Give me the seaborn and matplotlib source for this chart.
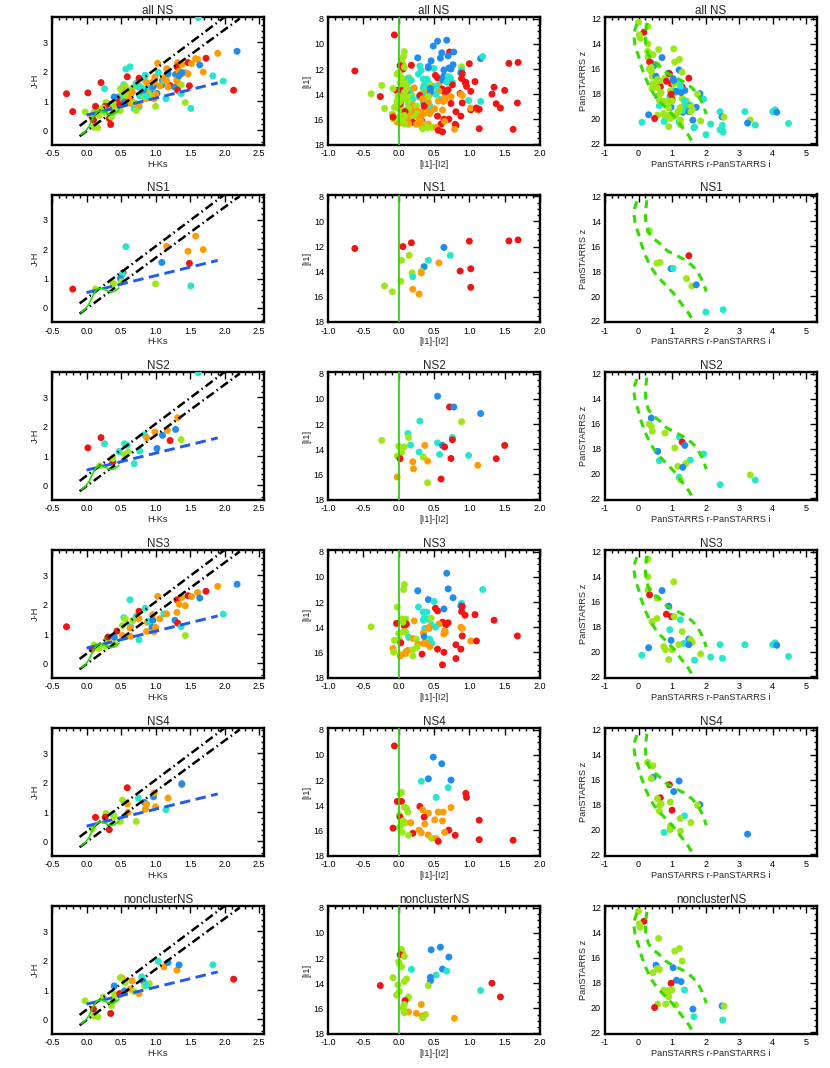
import matplotlib
matplotlib.use('Agg')
import matplotlib.pyplot as plt
import seaborn as sns
import pandas as pd
from matplotlib.ticker import MultipleLocator, FormatStrFormatter

# ---------------- class colours ----------------
PALETTE = {'r': '#f01414', 'o': '#ff9c00', 'g': '#9de619', 'c': '#26e6cc', 'b': '#1e8cf0'}

# ---------------- NS1 ----------------
ns1_hk = [-0.20, 0.13, 0.39, 0.53, 0.52, 0.49, 0.51, 0.57, 1.16, 1.09, 1.00, 1.47, 1.58, 1.69, 1.49, 1.51]
ns1_jh = [0.64, 0.64, 0.83, 1.20, 1.15, 1.00, 0.89, 2.09, 2.10, 1.55, 0.82, 1.93, 2.45, 1.99, 1.52, 0.75]
ns1_jh_cls = ['r', 'g', 'g', 'r', 'c', 'b', 'g', 'c', 'o', 'b', 'g', 'o', 'o', 'o', 'r', 'c']

ns1_i12 = [-0.62, 0.06, 0.18, 1.00, 1.56, 1.69, 1.02, 0.87, 1.02, 0.64, 0.73, 0.42, 0.36, 0.57, 0.15, 0.04, 0.19, 0.32, 0.32, 0.20, 0.03, -0.20, -0.09, 0.20, 0.29]
ns1_i1 = [12.15, 12.0, 11.7, 11.57, 11.55, 11.47, 13.77, 13.95, 15.25, 12.07, 12.7, 13.1, 13.6, 13.3, 12.7, 13.1, 14.1, 13.98, 14.1, 14.4, 14.77, 15.14, 15.6, 15.4, 15.78]
ns1_i_cls = ['r', 'r', 'r', 'r', 'r', 'r', 'r', 'r', 'r', 'b', 'c', 'c', 'b', 'o', 'g', 'g', 'g', 'g', 'o', 'c', 'g', 'g', 'g', 'o', 'o']

ns1_ri = [0.32, 1.50, 0.55, 0.64, 0.97, 1.03, 1.43, 1.59, 1.72, 2.01, 2.52]
ns1_z = [14.75, 16.76, 17.37, 17.30, 17.80, 17.78, 18.6, 19.2, 19.1, 21.3, 21.1]
ns1_ps_cls = ['g', 'r', 'g', 'g', 'b', 'c', 'g', 'g', 'b', 'c', 'c']

# ---------------- NS2 ----------------
ns2_hk = [0.02, 0.21, 0.26, 0.19, 0.38, 0.38, 0.47, 0.55, 0.59, 0.55, 0.60, 0.69, 0.77, 0.84, 0.87, 1.02, 0.99, 1.10, 1.17, 1.21, 1.29, 1.32, 1.37, 1.62]
ns2_jh = [1.28, 1.63, 1.42, 0.67, 0.80, 0.92, 1.15, 1.42, 1.37, 1.05, 1.13, 0.74, 1.17, 1.73, 1.63, 1.26, 1.82, 1.71, 1.88, 1.53, 1.91, 2.31, 1.56, 3.85]
ns2_jh_cls = ['r', 'r', 'c', 'g', 'r', 'g', 'c', 'c', 'c', 'g', 'g', 'c', 'c', 'c', 'o', 'b', 'o', 'b', 'o', 'r', 'b', 'o', 'g', 'c']

ns2_i12 = [0.55, 0.72, 0.78, 1.16, 0.30, 0.89, 0.13, 0.14, 0.76, 0.76, -0.24, 0.55, 0.17, 0.37, 0.62, 0.65, 0.00, 0.08, 0.29, 0.04, 0.58, -0.02, 0.35, 0.02, 0.41, 0.74, 0.99, 1.38, 1.50, 1.12, 0.20, 0.21, -0.02, 0.60, 0.41]
ns2_i1 = [9.78, 10.64, 10.64, 11.16, 11.76, 11.81, 12.75, 13.07, 13.07, 13.25, 13.3, 13.5, 13.67, 13.7, 13.7, 13.82, 13.77, 13.82, 14.24, 14.27, 14.42, 14.55, 14.63, 14.76, 14.95, 14.74, 14.5, 14.76, 13.7, 15.28, 15.0, 15.57, 16.22, 16.38, 16.67]
ns2_i_cls = ['b', 'r', 'b', 'b', 'c', 'g', 'c', 'g', 'c', 'r', 'g', 'c', 'c', 'o', 'b', 'r', 'g', 'g', 'c', 'g', 'c', 'g', 'g', 'r', 'o', 'r', 'c', 'r', 'r', 'o', 'o', 'o', 'o', 'r', 'g']

ns2_ri = [0.38, 0.32, 0.38, 0.41, 0.79, 1.22, 1.30, 1.38, 1.08, 0.57, 1.94, 0.62, 1.54, 1.41, 1.17, 1.32, 1.21, 1.25, 3.33, 3.48, 2.43]
ns2_z = [15.54, 16.02, 16.2, 16.6, 16.75, 17.07, 17.47, 17.74, 17.95, 18.22, 18.43, 18.97, 18.92, 19.19, 19.43, 19.5, 20.3, 20.5, 20.12, 20.53, 20.9]
ns2_ps_cls = ['b', 'g', 'g', 'g', 'g', 'c', 'r', 'b', 'g', 'b', 'c', 'c', 'c', 'g', 'g', 'b', 'c', 'g', 'g', 'c', 'c']

# ---------------- NS3 ----------------
ns3_hk = [-0.29, 0.08, 0.11, 0.18, 0.27, 0.30, 0.31, 0.41, 0.40, 0.41, 0.44, 0.54, 0.56, 0.52, 0.52, 0.63, 0.64, 0.63, 0.67, 0.72,
          0.64, 0.76, 0.76, 0.76, 0.85, 0.87, 0.88, 0.90, 0.96, 0.96, 0.95, 0.98, 1.03, 1.06, 1.00, 1.12, 1.16, 1.28, 1.31, 1.32,
          1.31, 1.34, 1.38, 1.37, 1.43, 1.47, 1.52, 1.43, 1.61, 1.64, 1.73, 1.90, 1.98, 2.18]
ns3_jh = [1.25, 0.49, 0.63, 0.51, 0.60, 0.83, 0.90, 0.88, 0.89, 0.66, 1.10, 1.56, 1.52, 1.29, 0.95, 2.17, 1.25, 1.21, 1.46, 1.61,
          0.92, 0.80, 1.78, 1.52, 1.88, 1.09, 1.40, 1.43, 1.66, 1.47, 1.23, 1.08, 2.29, 1.52, 1.23, 1.69, 1.69, 1.47, 2.17, 1.37,
          1.74, 2.02, 2.25, 1.25, 1.97, 2.31, 2.28, 0.95, 2.42, 2.23, 2.46, 2.63, 1.68, 2.70]
ns3_jh_cls = ['r', 'r', 'g', 'g', 'g', 'g', 'r', 'g', 'b', 'g', 'r', 'c', 'g', 'g', 'o', 'c', 'c', 'o', 'g', 'c',
              'o', 'c', 'r', 'o', 'c', 'o', 'o', 'c', 'o', 'b', 'b', 'o', 'o', 'o', 'o', 'c', 'o', 'b', 'r', 'r',
              'o', 'o', 'o', 'c', 'o', 'r', 'o', 'g', 'o', 'b', 'r', 'o', 'c', 'b']

ns3_i12 = [0.68, 0.08, 0.07, 0.70, 0.27, 1.19, 0.77, 0.42, 0.50, 0.89, 0.88, 0.90, -0.02, 0.28, 0.52, 0.55, 0.64, 0.35, 0.40, 0.89,
           0.94, 1.08, 0.05, 0.10, 0.36, 0.41, 0.22, 0.35, 0.46, 1.35, -0.03, 0.11, 0.08, 0.06, 0.62, 0.70, 0.67, 0.57, 0.46, 0.52,
           -0.39, 0.37, 0.43, 0.43, 0.88, 0.90, 0.65, 0.66, 0.64, 0.10, 0.07, 0.00, 0.35, 0.36, 0.14, 0.90, 1.68, 0.20, 0.25, -0.06,
           0.44, 0.01, 0.03, 0.47, 1.02, 1.10, 0.27, 0.35, 0.39, 0.44, 0.26, 0.81, 0.55, 0.88, -0.08, -0.07, 0.10, 0.10, 0.13, 0.20,
           0.03, 0.20, 0.02, 0.33, 0.64, 0.81, 0.62]
ns3_i1 = [9.7, 10.6, 11.0, 10.95, 11.1, 11.0, 11.65, 11.8, 11.95, 12.1, 12.3, 12.35, 12.4, 12.4, 12.5, 12.7, 12.55, 12.8, 12.8, 12.75,
          13.05, 13.0, 13.35, 13.35, 13.3, 13.35, 13.5, 13.45, 13.3, 13.45, 13.7, 13.75, 13.9, 13.6, 13.6, 13.65, 13.8, 13.75, 13.8, 14.0,
          13.97, 14.1, 14.0, 14.1, 14.0, 14.1, 14.3, 14.4, 14.55, 14.4, 14.35, 14.5, 14.45, 14.75, 14.8, 14.7, 14.7, 14.9, 14.95, 15.05,
          14.95, 15.0, 15.25, 15.3, 15.1, 15.1, 15.35, 15.3, 15.3, 15.55, 15.6, 15.4, 15.75, 15.75, 15.7, 16.0, 15.95, 16.1, 15.85, 15.8,
          16.2, 16.3, 16.3, 16.15, 16.0, 16.5, 17.0]
ns3_i_cls = ['b', 'g', 'g', 'b', 'b', 'c', 'b', 'b', 'c', 'c', 'b', 'r', 'g', 'c', 'r', 'r', 'b', 'c', 'c', 'r',
             'r', 'r', 'g', 'g', 'c', 'c', 'o', 'c', 'g', 'r', 'r', 'r', 'r', 'g', 'r', 'r', 'r', 'o', 'c', 'c',
             'g', 'c', 'o', 'o', 'o', 'o', 'o', 'o', 'o', 'g', 'g', 'g', 'o', 'b', 'c', 'r', 'r', 'o', 'g', 'g',
             'c', 'g', 'r', 'c', 'o', 'r', 'o', 'o', 'o', 'o', 'g', 'r', 'r', 'r', 'o', 'g', 'g', 'o', 'o', 'g',
             'o', 'g', 'o', 'r', 'r', 'r', 'r']

ns3_ri = [0.28, 0.28, 1.05, 0.70, 0.28, 0.30, 0.33, 0.55, 0.90, 0.83, 0.98, 1.06, 1.25, 0.55, 0.40, 0.93, 1.30, 1.50, 0.97,
          1.55, 1.60, 1.35, 1.20, 1.50, 0.75, 0.80, 1.00, 0.30, 2.43, 3.17, 4.00, 4.07, 4.12, 1.85, 0.10, 2.15, 2.50, 0.90, 1.67, 4.47]
ns3_z = [12.6, 14.0, 14.4, 15.1, 15.05, 15.0, 15.45, 15.7, 16.35, 17.0, 17.2, 17.2, 17.45, 17.35, 17.6, 18.25, 18.4, 19.0, 19.1,
         19.05, 19.25, 19.35, 19.45, 19.45, 19.6, 19.85, 19.85, 19.7, 19.45, 19.45, 19.45, 19.3, 19.5, 20.2, 20.3, 20.45, 20.55, 20.65, 20.7, 20.4]
ns3_ps_cls = ['g', 'g', 'g', 'b', 'g', 'g', 'r', 'g', 'b', 'r', 'r', 'g', 'c', 'g', 'g', 'c', 'g', 'b', 'b',
              'g', 'g', 'c', 'g', 'b', 'g', 'g', 'g', 'b', 'c', 'c', 'c', 'c', 'b', 'g', 'c', 'c', 'c', 'g', 'c', 'c']

# ---------------- NS4 ----------------
ns4_hk = [0.13, 0.28, 0.27, 0.33, 0.08, 0.38, 0.40, 0.49, 0.52, 0.59, 0.59, 0.60, 0.72, 0.75, 0.84, 0.85, 0.87, 0.97, 0.98, 1.00, 1.15, 1.18, 1.38, 1.38]
ns4_jh = [0.82, 0.95, 0.82, 0.40, 0.42, 0.92, 0.85, 0.68, 1.41, 1.83, 1.28, 0.99, 0.68, 1.48, 1.33, 1.10, 1.27, 1.52, 1.65, 1.18, 1.08, 1.48, 1.93, 1.97]
ns4_jh_cls = ['r', 'g', 'r', 'r', 'g', 'c', 'g', 'g', 'g', 'r', 'o', 'o', 'g', 'c', 'b', 'o', 'o', 'b', 'o', 'o', 'c', 'o', 'o', 'b']

ns4_i12 = [-0.06, 0.49, 0.61, 0.42, 0.74, 0.32, 0.70, 0.04, 0.02, 0.95, 0.96, 0.53, -0.02, 0.04, 0.08, 0.11, 0.30, 0.34, 0.42, 0.56,
           0.63, 0.74, 0.13, 0.01, 0.02, 0.36, 0.06, 0.10, 0.04, 0.17, 0.51, 0.62, 1.14, 0.37, 0.01, -0.08, 0.29, 0.71, 0.05, 0.32,
           0.20, 0.65, 0.80, 0.14, 0.42, 0.47, 0.53, 1.14, 0.56, 1.62]
ns4_i1 = [9.28, 10.17, 10.7, 11.9, 12.0, 12.1, 12.6, 12.97, 13.1, 13.06, 13.38, 13.38, 13.7, 13.7, 14.16, 14.24, 14.1, 14.37, 14.63, 14.55,
          14.55, 14.19, 14.55, 14.8, 14.95, 14.95, 15.26, 15.4, 15.57, 15.4, 15.17, 15.26, 15.2, 15.5, 15.8, 15.83, 15.99, 15.99, 16.17, 16.2,
          16.24, 16.17, 16.4, 16.4, 16.38, 16.64, 16.66, 16.75, 16.88, 16.8]
ns4_i_cls = ['r', 'b', 'b', 'b', 'b', 'c', 'c', 'g', 'g', 'r', 'r', 'c', 'r', 'r', 'g', 'g', 'r', 'o', 'o', 'o',
             'o', 'o', 'g', 'g', 'r', 'r', 'g', 'g', 'g', 'o', 'o', 'o', 'r', 'o', 'g', 'r', 'o', 'r', 'g', 'o',
             'r', 'o', 'r', 'g', 'o', 'g', 'o', 'r', 'r', 'r']

ns4_ri = [0.27, 0.43, 0.44, 0.38, 1.21, 0.92, 1.05, 0.65, 0.56, 0.67, 0.63, 0.95, 1.83, 1.76, 1.00, 0.62, 1.37, 1.24, 1.56, 0.95, 0.94, 0.76, 1.25, 3.25]
ns4_z = [14.6, 14.87, 15.8, 15.9, 16.1, 16.4, 16.95, 17.45, 17.52, 17.92, 18.05, 17.79, 18.0, 18.05, 18.45, 18.53, 18.9, 19.12, 19.44, 19.73, 20.0, 20.24, 20.13, 20.37]
ns4_ps_cls = ['g', 'g', 'b', 'g', 'b', 'r', 'b', 'r', 'g', 'g', 'g', 'g', 'b', 'g', 'r', 'g', 'c', 'g', 'g', 'g', 'g', 'c', 'g', 'b']

# ---------------- nonclusterNS ----------------
nc_hk = [-0.02, 0.10, 0.11, 0.16, 0.35, 0.24, 0.36, 0.39, 0.41, 0.40, 0.48, 0.48, 0.51, 0.49, 0.56, 0.55, 0.63, 0.66, 0.69, 0.76,
         0.82, 0.80, 0.84, 0.91, 0.87, 1.04, 1.12, 1.18, 1.31, 1.34, 1.83, 2.13]
nc_jh = [0.63, 0.35, 0.11, 0.09, 0.20, 0.76, 0.46, 0.68, 0.85, 1.14, 0.83, 0.88, 1.42, 1.42, 1.25, 0.97, 1.03, 1.31, 0.95, 0.88,
         1.31, 1.45, 1.15, 1.22, 1.16, 1.98, 1.79, 1.94, 1.68, 1.86, 1.86, 1.37]
nc_jh_cls = ['g', 'r', 'g', 'g', 'r', 'g', 'g', 'g', 'g', 'b', 'g', 'r', 'o', 'g', 'g', 'b', 'o', 'o', 'g', 'o',
             'b', 'c', 'g', 'g', 'c', 'c', 'o', 'b', 'o', 'b', 'c', 'r']

nc_i12 = [0.59, 0.46, 0.04, 0.06, 0.02, 0.08, 0.71, 0.00, 0.01, 0.04, 0.18, 0.62, 0.68, 0.53, 0.45, 0.45, -0.08, 0.11, 0.08, 1.32,
          -0.01, -0.26, 0.42, 1.16, 0.01, -0.03, 1.44, 0.14, 0.13, 0.09, 0.08, 0.05, 0.32, 0.08, 0.14, 0.08, 0.25, 0.38, 0.33, 0.34, 0.79]
nc_i1 = [11.13, 11.34, 11.32, 11.65, 11.73, 11.85, 11.92, 12.3, 12.45, 12.7, 12.9, 12.88, 13.04, 13.35, 13.53, 13.8, 13.56, 13.66, 13.87, 14.0,
         14.14, 14.19, 14.19, 14.58, 14.66, 14.95, 15.1, 15.1, 15.23, 15.39, 15.7, 15.96, 15.7, 16.17, 16.3, 16.36, 16.4, 16.49, 16.62, 16.75, 16.8]
nc_i_cls = ['b', 'b', 'g', 'g', 'r', 'g', 'b', 'g', 'g', 'g', 'c', 'b', 'c', 'c', 'b', 'b', 'g', 'g', 'g', 'r',
            'g', 'r', 'g', 'c', 'g', 'g', 'r', 'g', 'g', 'r', 'g', 'g', 'o', 'g', 'o', 'g', 'o', 'g', 'o', 'g', 'o']

nc_ri = [0.00, 0.16, 0.02, 0.05, 0.60, 1.22, 1.08, 1.30, 0.52, 0.56, 1.03, 0.62, 0.43, 1.13, 1.27, 0.97, 0.75, 0.87, 1.00, 0.92,
         1.37, 0.87, 0.90, 0.81, 0.57, 1.10, 0.48, 1.62, 2.49, 2.55, 1.65, 2.51]
nc_z = [12.27, 13.07, 13.28, 13.55, 14.45, 15.25, 15.47, 16.27, 16.6, 16.88, 16.8, 16.95, 17.2, 17.81, 17.92, 18.05, 18.61, 18.67, 18.59, 18.62,
        18.59, 18.93, 19.15, 19.73, 19.73, 19.79, 20.0, 20.13, 19.87, 19.89, 20.75, 21.01]
nc_ps_cls = ['g', 'r', 'g', 'g', 'g', 'g', 'g', 'g', 'b', 'g', 'b', 'g', 'g', 'b', 'b', 'r', 'g', 'g', 'g', 'g',
             'c', 'g', 'g', 'g', 'g', 'g', 'r', 'b', 'b', 'g', 'c', 'c']

# ---------------- reference loci ----------------
redd_up_x = [-0.10, 2.00]
redd_up_y = [0.15, 3.87]
redd_lo_x = [-0.10, 2.22]
redd_lo_y = [-0.20, 3.82]
ctts_x = [0.0, 1.9]
ctts_y = [0.52, 1.62]
ms_x = [-0.08, -0.02, 0.04, 0.08, 0.11, 0.14, 0.18, 0.22, 0.27, 0.32, 0.36, 0.40, 0.44, 0.47]
ms_y = [-0.15, -0.05, 0.15, 0.35, 0.50, 0.60, 0.66, 0.66, 0.62, 0.56, 0.54, 0.56, 0.62, 0.68]
wise_x0 = 0.0
ps_left_x = [-0.05, -0.15, -0.10, 0.00, 0.08, 0.20, 0.35, 0.55, 0.80, 1.05, 1.30, 1.50, 1.65]
ps_left_y = [12.4, 13.2, 14.2, 15.0, 15.8, 16.7, 17.6, 18.4, 19.1, 19.8, 20.7, 21.4, 22.1]
ps_right_x = [0.25, 0.20, 0.22, 0.30, 0.45, 0.60, 0.85, 1.10, 1.35, 1.60, 1.75, 1.87, 1.95, 2.02]
ps_right_y = [12.3, 13.3, 14.2, 14.9, 15.4, 15.7, 16.35, 16.7, 17.05, 17.55, 18.0, 18.6, 19.1, 19.65]

groups = [
    ('NS1', (ns1_hk, ns1_jh, ns1_jh_cls), (ns1_i12, ns1_i1, ns1_i_cls), (ns1_ri, ns1_z, ns1_ps_cls)),
    ('NS2', (ns2_hk, ns2_jh, ns2_jh_cls), (ns2_i12, ns2_i1, ns2_i_cls), (ns2_ri, ns2_z, ns2_ps_cls)),
    ('NS3', (ns3_hk, ns3_jh, ns3_jh_cls), (ns3_i12, ns3_i1, ns3_i_cls), (ns3_ri, ns3_z, ns3_ps_cls)),
    ('NS4', (ns4_hk, ns4_jh, ns4_jh_cls), (ns4_i12, ns4_i1, ns4_i_cls), (ns4_ri, ns4_z, ns4_ps_cls)),
    ('nonclusterNS', (nc_hk, nc_jh, nc_jh_cls), (nc_i12, nc_i1, nc_i_cls), (nc_ri, nc_z, nc_ps_cls)),
]


def combine(k):
    xs, ys, cs = [], [], []
    for g in groups:
        xs += list(g[k][0]); ys += list(g[k][1]); cs += list(g[k][2])
    return xs, ys, cs


rows = [('all NS', combine(1), combine(2), combine(3))] + groups

# ---------------- figure ----------------
sns.set_style('white')
plt.rcParams['font.family'] = ['Liberation Sans', 'DejaVu Sans']
plt.rcParams['axes.unicode_minus'] = False

W, H = 830, 1068
fig = plt.figure(figsize=(W / 100, H / 100), dpi=100)
col_left = [52, 328, 605]
row_top = [17, 194.5, 372, 550, 728, 906]
aw, ah = 212, 128


def scatter(ax, data):
    df = pd.DataFrame({'x': data[0], 'y': data[1], 'c': data[2]})
    sns.scatterplot(data=df, x='x', y='y', hue='c', palette=PALETTE, s=25,
                    linewidth=0, legend=False, ax=ax, zorder=3)


def style(ax, xlim, ylim, xmaj, xmin, ymaj, ymin, xfmt, yfmt, xlabel, ylabel, title):
    ax.set_xlim(xlim)
    ax.set_ylim(ylim)
    ax.xaxis.set_major_locator(MultipleLocator(xmaj))
    ax.xaxis.set_minor_locator(MultipleLocator(xmin))
    ax.yaxis.set_major_locator(MultipleLocator(ymaj))
    ax.yaxis.set_minor_locator(MultipleLocator(ymin))
    ax.xaxis.set_major_formatter(FormatStrFormatter(xfmt))
    ax.yaxis.set_major_formatter(FormatStrFormatter(yfmt))
    ax.tick_params(which='both', direction='in', top=True, right=True, width=1.0, colors='black')
    ax.tick_params(which='major', length=5, labelsize=6.5, pad=3)
    ax.tick_params(which='minor', length=2.5)
    for s in ax.spines.values():
        s.set_linewidth(1.7)
        s.set_color('black')
    ax.set_xlabel(xlabel, fontsize=6.7, labelpad=1)
    ax.set_ylabel(ylabel, fontsize=6.7, labelpad=2)
    ax.set_title(title, fontsize=8.4, pad=2.5)


for r, (title, d1, d2, d3) in enumerate(rows):
    axs = []
    for c in range(3):
        l = col_left[c] / W
        b = 1 - (row_top[r] + ah) / H
        axs.append(fig.add_axes([l, b, aw / W, ah / H]))
    a1, a2, a3 = axs

    # J-H vs H-Ks
    scatter(a1, d1)
    a1.plot(redd_up_x, redd_up_y, color='black', lw=1.8, dashes=(3.6, 1.4, 0.6, 1.4), zorder=4)
    a1.plot(redd_lo_x, redd_lo_y, color='black', lw=1.8, dashes=(3.6, 1.4, 0.6, 1.4), zorder=4)
    a1.plot(ctts_x, ctts_y, color='#1f5af5', lw=2.1, dashes=(3.6, 1.9), zorder=4)
    a1.plot(ms_x, ms_y, color='#22e000', lw=1.2, zorder=4)
    style(a1, (-0.5, 2.57), (-0.5, 3.87), 0.5, 0.1, 1, 0.2, '%.1f', '%d', 'H-Ks', 'J-H', title)

    # [I1] vs [I1]-[I2]
    scatter(a2, d2)
    a2.axvline(wise_x0, color='#22dd00', lw=1.3, zorder=4)
    style(a2, (-1.0, 2.0), (18.05, 7.85), 0.5, 0.1, 2, 0.5, '%.1f', '%d', '[I1]-[I2]', '[I1]', title)

    # PanSTARRS
    scatter(a3, d3)
    a3.plot(ps_left_x, ps_left_y, color='#33dd00', lw=2.2, dashes=(2.6, 2.0), zorder=4)
    a3.plot(ps_right_x, ps_right_y, color='#33dd00', lw=2.2, dashes=(2.6, 2.0), zorder=4)
    style(a3, (-1.0, 5.32), (22.13, 11.84), 1, 0.2, 2, 0.5, '%d', '%d',
          'PanSTARRS r-PanSTARRS i', 'PanSTARRS z', title)

fig.savefig('out.png', dpi=100)
